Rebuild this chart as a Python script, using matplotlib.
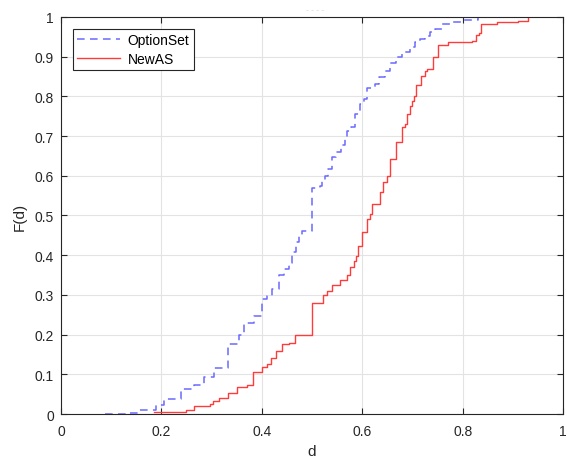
import numpy as np
import matplotlib
matplotlib.use('Agg')
import matplotlib.pyplot as plt

plt.rcParams['font.family'] = ['Liberation Sans', 'DejaVu Sans']

opt_d = [0.088, 0.13, 0.155, 0.19, 0.205, 0.24, 0.265, 0.285, 0.305, 0.333,
         0.355, 0.365, 0.385, 0.4, 0.41, 0.42, 0.435, 0.445, 0.455, 0.46,
         0.468, 0.475, 0.48, 0.5, 0.515, 0.52, 0.525, 0.532, 0.54, 0.548,
         0.558, 0.565, 0.57, 0.578, 0.585, 0.596, 0.603, 0.61, 0.625, 0.633,
         0.645, 0.655, 0.668, 0.68, 0.695, 0.705, 0.715, 0.725, 0.735, 0.745,
         0.758, 0.775, 0.8, 0.83, 0.93]
opt_F = [0.0, 0.002, 0.01, 0.023, 0.038, 0.063, 0.073, 0.093, 0.115, 0.176,
         0.2, 0.23, 0.247, 0.29, 0.297, 0.315, 0.35, 0.365, 0.38, 0.408,
         0.433, 0.449, 0.461, 0.569, 0.574, 0.587, 0.6, 0.617, 0.647, 0.66,
         0.678, 0.693, 0.713, 0.723, 0.756, 0.78, 0.793, 0.82, 0.83, 0.85,
         0.865, 0.884, 0.9, 0.912, 0.924, 0.937, 0.945, 0.952, 0.962, 0.97,
         0.982, 0.987, 0.993, 0.999, 1.0]

new_d = [0.186, 0.249, 0.265, 0.297, 0.303, 0.315, 0.333, 0.35, 0.37, 0.383,
         0.4, 0.41, 0.418, 0.428, 0.44, 0.455, 0.466, 0.5, 0.522, 0.53,
         0.54, 0.555, 0.57, 0.575, 0.583, 0.587, 0.592, 0.6, 0.61, 0.615,
         0.62, 0.635, 0.642, 0.65, 0.655, 0.667, 0.679, 0.685, 0.69, 0.695,
         0.7, 0.703, 0.707, 0.717, 0.725, 0.73, 0.74, 0.751, 0.771, 0.818,
         0.826, 0.832, 0.837, 0.868, 0.911, 0.93]
new_F = [0.005, 0.01, 0.02, 0.025, 0.033, 0.04, 0.053, 0.067, 0.073, 0.106,
         0.118, 0.126, 0.14, 0.159, 0.176, 0.18, 0.2, 0.28, 0.3, 0.31,
         0.325, 0.338, 0.35, 0.37, 0.385, 0.398, 0.423, 0.458, 0.49, 0.503,
         0.53, 0.56, 0.584, 0.6, 0.643, 0.685, 0.723, 0.73, 0.756, 0.776,
         0.788, 0.8, 0.828, 0.851, 0.864, 0.87, 0.9, 0.93, 0.937, 0.94,
         0.955, 0.96, 0.982, 0.987, 0.99, 1.0]

fig = plt.figure(figsize=(5.67, 4.6), dpi=100)
ax = fig.add_axes([0.1076, 0.0978, 0.8854, 0.8632])

ax.step(opt_d, opt_F, where='post', color='#6a6aff', linestyle=(0, (5, 3.5)),
        linewidth=1.1, label='OptionSet')
ax.step(new_d, new_F, where='post', color='#ff3b3b', linewidth=1.0,
        label='NewAS')

ax.set_xlim(0, 1)
ax.set_ylim(0, 1)
ax.set_xticks(np.arange(0, 1.01, 0.2))
ax.set_xticklabels(['0', '0.2', '0.4', '0.6', '0.8', '1'])
ax.set_yticks(np.arange(0, 1.01, 0.1))
ax.set_yticklabels(['0', '0.1', '0.2', '0.3', '0.4', '0.5', '0.6', '0.7',
                    '0.8', '0.9', '1'])
ax.grid(True, color='#e3e3e3', linewidth=0.8)
ax.set_axisbelow(True)
ax.tick_params(direction='in', top=True, right=True, length=4, width=0.8,
               labelsize=10, colors='#262626')
ax.tick_params(axis='x', pad=7)
ax.tick_params(axis='y', pad=5)
for s in ax.spines.values():
    s.set_color('#262626')
    s.set_linewidth(0.8)
ax.set_xlabel('d', fontsize=11, color='#262626', labelpad=4.5)
ax.set_ylabel('F(d)', fontsize=11, color='#262626', labelpad=6)

leg = ax.legend(loc='upper left', fontsize=10, fancybox=False, framealpha=1,
                edgecolor='#262626', borderpad=0.3, handlelength=3.1,
                labelspacing=0.35, handletextpad=0.55, borderaxespad=0.85)
leg.get_frame().set_linewidth(0.8)

fig.text(0.555, 0.978, '- - - -', fontsize=6, color='#d0d0d0', ha='center',
         va='center')

fig.savefig('out.png', dpi=100)
